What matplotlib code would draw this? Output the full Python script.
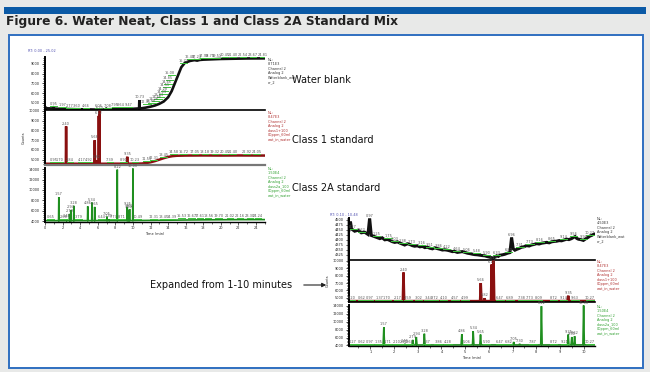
import numpy as np
import matplotlib
matplotlib.use("Agg")
import matplotlib.pyplot as plt
from matplotlib.patches import Rectangle, FancyArrowPatch
from matplotlib.ticker import FixedLocator, AutoMinorLocator

# ---------------- data ----------------
# Water blank trace (time in min, counts)
wb_t = [0.00, 0.10, 0.16, 0.21, 0.34, 0.48, 0.62, 0.76, 0.90, 0.97, 1.04, 1.18, 1.29, 1.40, 1.50,
        1.61, 1.72, 1.82, 1.92, 2.03, 2.14, 2.24, 2.35, 2.45, 2.56, 2.66, 2.77, 2.87, 2.98, 3.09,
        3.20, 3.30, 3.41, 3.51, 3.62, 3.72, 3.83, 3.93, 4.04, 4.14, 4.25, 4.35, 4.46, 4.56, 4.67,
        4.78, 4.88, 4.99, 5.10, 5.20, 5.31, 5.41, 5.52, 5.62, 5.73, 5.83, 5.94, 6.04, 6.11, 6.18,
        6.25, 6.33, 6.40, 6.47, 6.58, 6.68, 6.79, 6.89, 6.96, 7.03, 7.10, 7.17, 7.28, 7.38, 7.48,
        7.59, 7.70, 7.80, 7.91, 8.02, 8.12, 8.23, 8.34, 8.44, 8.55, 8.65, 8.76, 8.86, 8.97, 9.07,
        9.18, 9.28, 9.38, 9.49, 9.56, 9.64, 9.71, 9.78, 9.88, 9.99, 10.10, 10.20, 10.27, 10.34,
        10.41, 10.48, 11.0, 11.5, 12.0, 12.5, 13.0, 13.5, 14.0, 14.4, 14.8, 15.2, 15.5, 15.9,
        16.5, 17.0, 17.3, 17.6, 18.0, 19.0, 20.0, 21.0, 22.0, 23.0, 24.0, 25.0]
wb_v = [4460, 4452, 4492, 4455, 4444, 4449, 4436, 4439, 4428, 4508, 4423, 4417, 4412, 4407, 4411,
        4401, 4403, 4398, 4392, 4388, 4391, 4385, 4380, 4375, 4381, 4378, 4372, 4369, 4371, 4366,
        4368, 4362, 4364, 4359, 4356, 4361, 4357, 4354, 4350, 4351, 4349, 4346, 4342, 4343, 4338,
        4340, 4342, 4338, 4334, 4332, 4329, 4327, 4326, 4324, 4322, 4321, 4317, 4314, 4312, 4309,
        4314, 4321, 4318, 4324, 4326, 4329, 4334, 4337, 4412, 4356, 4349, 4353, 4358, 4364, 4366,
        4372, 4370, 4375, 4378, 4382, 4380, 4384, 4386, 4388, 4386, 4391, 4393, 4394, 4397, 4396,
        4400, 4404, 4402, 4407, 4412, 4417, 4408, 4404, 4402, 4398, 4407, 4414, 4420, 4423,
        4428, 4430, 4460, 4530, 4620, 4740, 4910, 5150, 5580, 6200, 7100, 8000, 8650, 9100,
        9300, 9380, 9330, 9400, 9430, 9470, 9500, 9520, 9540, 9550, 9550, 9560]
wb_peak_t = [10.73]
wb_peak_v = [5300]

# Class 1 standard trace
c1_base_t = [0, 1, 2, 3, 4, 5, 6, 7, 8, 9, 10, 11, 11.5, 12, 12.5, 13, 13.5, 14, 14.5, 15, 16, 18, 20, 22, 25]
c1_base_v = [4580, 4575, 4570, 4580, 4575, 4570, 4575, 4580, 4585, 4580, 4590, 4600, 4650, 4730,
             4850, 5000, 5150, 5280, 5360, 5400, 5420, 5430, 5420, 5430, 5420]
c1_peak_t = [2.40, 5.66, 5.82, 6.12, 6.20, 9.35]
c1_peak_v = [8420, 7000, 4950, 9500, 10020, 5300]

# Class 2A standard trace
c2_base_t = [0, 2, 4, 6, 8, 10, 12, 14, 16, 18, 20, 22, 25]
c2_base_v = [4130, 4120, 4130, 4140, 4130, 4150, 4180, 4210, 4250, 4280, 4300, 4320, 4330]
c2_peak_t = [1.57, 2.46, 2.79, 2.94, 3.28, 4.86, 5.34, 5.65, 7.05, 7.30, 8.22, 9.35, 9.50, 9.62, 10.00]
c2_peak_v = [8620, 4390, 5420, 6140, 6970, 6870, 7590, 6760, 4900, 4390, 13890, 6760, 6140, 6350, 14100]

# integration marks (full run)
wb_marks = [0.95, 1.97, 2.77, 3.60, 4.66, 6.06, 7.08, 7.95, 8.64, 9.47,
            12.31, 12.88, 13.26, 13.56, 13.83, 14.09, 14.28, 14.51, 14.66, 14.85, 15.08,
            15.72, 16.48, 17.23, 17.99, 18.75, 19.51, 20.45, 21.40, 22.54, 23.67, 24.81]
c1_marks = [0.95, 1.70, 2.84, 4.17, 4.92, 7.39, 8.90, 10.23, 11.55, 12.31, 13.45, 14.58,
            15.72, 17.05, 18.18, 19.32, 20.45, 21.40, 22.92, 24.05]
c2_marks = [0.65, 2.08, 3.79, 6.44, 7.77, 8.71, 10.49, 12.31, 13.45, 14.39, 15.53, 16.67,
            17.61, 18.56, 19.70, 21.02, 22.16, 23.30, 24.24]

# integration marks (1-10 min detail)
wbx_marks = [0.27, 0.62, 1.25, 1.75, 2.03, 2.38, 2.73, 3.16, 3.51, 3.86, 4.22, 4.64, 5.06,
             5.48, 5.90, 6.33, 6.82, 7.31, 7.73, 8.16, 8.65, 9.14, 9.56, 9.99, 10.27]
c1x_marks = [0.20, 0.62, 0.97, 1.37, 1.70, 2.17, 2.59, 3.02, 3.44, 3.72, 4.10, 4.57, 4.99,
             6.47, 6.89, 7.38, 7.73, 8.09, 8.72, 9.14, 9.63, 10.27]
c2x_marks = [0.27, 0.62, 0.97, 1.35, 1.71, 2.10, 2.41, 2.66, 3.37, 3.86, 4.28, 5.06, 5.90,
             6.47, 6.82, 7.87, 8.72, 9.21, 10.27]

# axis ranges and ticks
full_xlim = (0.0, 25.02)
full_xticks = [0, 2, 4, 6, 8, 10, 12, 14, 16, 18, 20, 22, 24]
zoom_xlim = (0.10, 10.48)
zoom_xticks = [1, 2, 3, 4, 5, 6, 7, 8, 9, 10]
wb_ylim, wb_yticks = (4280, 9700), [5000, 6000, 7000, 8000, 9000]
wbx_ylim, wbx_yticks = (4300, 4510), [4325, 4350, 4375, 4400, 4425, 4450, 4475, 4500]
c1_ylim, c1_yticks = (4450, 10100), [5000, 6000, 7000, 8000, 9000, 10000]
c2_ylim, c2_yticks = (3870, 14200), [4000, 6000, 8000, 10000, 12000, 14000]

wb_note = "NL:\n8.71E3\nChannel 2\nAnalog 2\nWaterblank_wat\ner_2"
wbx_note = "NL:\n4.50E3\nChannel 2\nAnalog 2\nWaterblank_wat\ner_2"
c1_note = "NL:\n8.47E3\nChannel 2\nAnalog 2\nclass1+100\n00ppm_60ml\nwat_in_water"
c2_note = "NL:\n1.50E4\nChannel 2\nAnalog 2\nclass2a_100\n00ppm_60ml\nwat_in_water"

# ---------------- figure ----------------
W, H = 650, 372
fig = plt.figure(figsize=(6.5, 3.72), dpi=100)
fig.patch.set_facecolor('#e8e9e8')


def fx(px):
    return px / W


def fy(py):
    return 1 - py / H


fig.add_artist(Rectangle((fx(4), fy(13.5)), fx(642), 6.5 / H, transform=fig.transFigure,
                         facecolor='#0b5aa6', edgecolor='none', zorder=-10))
fig.text(fx(6), fy(22), "Figure 6. Water Neat, Class 1 and Class 2A Standard Mix",
         ha='left', va='center', fontsize=8.8, fontweight='bold',
         family='DejaVu Sans', color='#222222')
fig.add_artist(Rectangle((fx(8.5), fy(368)), fx(634.5), (368 - 34.5) / H, transform=fig.transFigure,
                         facecolor='white', edgecolor='#2f6fc0', lw=1.4, zorder=-10))

GREEN_MARK = '#3cc43c'
TINY = 2.5
LABEL_GRAY = '#555555'


def build_trace(base_t, base_v, peak_t, peak_v, w):
    base_t = np.asarray(base_t, float)
    base_v = np.asarray(base_v, float)
    keep = np.ones(len(base_t), bool)
    for t in peak_t:
        keep &= np.abs(base_t - t) > w
    pts = list(zip(base_t[keep], base_v[keep]))
    for t, v in zip(peak_t, peak_v):
        pts.append((t - w, np.interp(t - w, base_t, base_v)))
        pts.append((t, v))
        pts.append((t + w, np.interp(t + w, base_t, base_v)))
    pts.sort(key=lambda p: p[0])
    arr = np.array(pts)
    return arr[:, 0], arr[:, 1]


def add_axes(x0, x1, y0, y1):
    ax = fig.add_axes([fx(x0), fy(y1), fx(x1 - x0), (y1 - y0) / H])
    ax.patch.set_alpha(0)
    return ax


def style_axes(ax, xlim, ylim, yticks, xticks=None, bottom_color='black', bottom_lw=1.0):
    ax.set_xlim(*xlim)
    ax.set_ylim(*ylim)
    for s in ('top', 'right'):
        ax.spines[s].set_visible(False)
    ax.spines['left'].set_linewidth(1.4)
    ax.spines['bottom'].set_color(bottom_color)
    ax.spines['bottom'].set_linewidth(bottom_lw)
    ax.yaxis.set_major_locator(FixedLocator(yticks))
    ax.set_yticklabels([str(v) for v in yticks])
    ax.yaxis.set_minor_locator(AutoMinorLocator(5))
    ax.tick_params(axis='y', which='major', length=2.5, width=0.6, labelsize=TINY,
                   colors='#222', pad=1)
    ax.tick_params(axis='y', which='minor', length=1.4, width=0.5)
    if xticks is None:
        ax.tick_params(axis='x', which='both', bottom=False, labelbottom=False)
    else:
        ax.xaxis.set_major_locator(FixedLocator(xticks))
        ax.set_xticklabels([str(v) for v in xticks])
        ax.xaxis.set_minor_locator(AutoMinorLocator(2))
        ax.tick_params(axis='x', which='major', length=2, width=0.5, labelsize=TINY,
                       colors='#222', pad=1)
        ax.tick_params(axis='x', which='minor', length=1.2, width=0.4)
        ax.set_xlabel("Time (min)", fontsize=TINY, labelpad=1, color='#222')


def on_left(mt, left_marks):
    return len(left_marks) == 2 and left_marks[0] <= mt <= left_marks[1]


def draw_trace(ax, t, v, color, lw, peak_t, peak_v, marks, xlim, left_marks=()):
    ax.plot(t, v, color=color, lw=lw, solid_joinstyle='miter')
    ylo, yhi = ax.get_ylim()
    dy = 0.03 * (yhi - ylo)
    span = xlim[1] - xlim[0]
    for pt, pv in zip(peak_t, peak_v):
        if xlim[0] <= pt <= xlim[1]:
            ax.annotate(f"{pt:.2f}", (pt, pv), xytext=(0, 0.6), textcoords='offset points',
                        ha='center', va='bottom', fontsize=TINY, color=LABEL_GRAY,
                        annotation_clip=False)
    for mt in marks:
        y = np.interp(mt, t, v) + dy
        if on_left(mt, left_marks):
            ax.plot([mt - 0.045 * span, mt - 0.01 * span], [y, y], color=GREEN_MARK, lw=0.7)
            ax.text(mt - 0.012 * span, y, f"{mt:.2f}", ha='right', va='bottom',
                    fontsize=TINY, color=LABEL_GRAY)
        else:
            ax.plot([mt - 0.015 * span, mt + 0.015 * span], [y, y], color=GREEN_MARK, lw=0.7)
            ax.text(mt, y, f"{mt:.2f}", ha='center', va='bottom', fontsize=TINY,
                    color=LABEL_GRAY)


def note(px, py, text, color):
    fig.text(fx(px), fy(py), text, ha='left', va='top', fontsize=TINY, color=color,
             linespacing=1.15)


wb_tt, wb_vv = build_trace(wb_t, wb_v, wb_peak_t, wb_peak_v, 0.03)
c1_tt, c1_vv = build_trace(c1_base_t, c1_base_v, c1_peak_t, c1_peak_v, 0.03)
c2_tt, c2_vv = build_trace(c2_base_t, c2_base_v, c2_peak_t, c2_peak_v, 0.03)

BLACK, RED, GREEN = '#111111', '#8a1010', '#1f8f1f'

# ---- full run, 0-25 min ----
ax1 = add_axes(45, 265, 57, 110)
style_axes(ax1, full_xlim, wb_ylim, wb_yticks, bottom_lw=1.2)
draw_trace(ax1, wb_tt, wb_vv, BLACK, 1.9, wb_peak_t, wb_peak_v, wb_marks, full_xlim,
           left_marks=(12.0, 15.2))

ax2 = add_axes(45, 265, 110, 165)
style_axes(ax2, full_xlim, c1_ylim, c1_yticks, bottom_color='#777777', bottom_lw=1.6)
draw_trace(ax2, c1_tt, c1_vv, RED, 1.8, c1_peak_t, c1_peak_v, c1_marks, full_xlim)
ax2.set_ylabel("Counts", fontsize=TINY, labelpad=2, color='#222')

ax3 = add_axes(45, 265, 168, 222)
style_axes(ax3, full_xlim, c2_ylim, c2_yticks, xticks=full_xticks)
draw_trace(ax3, c2_tt, c2_vv, GREEN, 1.2, c2_peak_t, c2_peak_v, c2_marks, full_xlim)

fig.text(fx(28), fy(51), f"RT: {full_xlim[0]:.2f} - {full_xlim[1]:.2f}", fontsize=TINY,
         color='#5050b0', ha='left', va='center')
note(268, 58, wb_note, '#333333')
note(268, 111, c1_note, '#b03030')
note(268, 167, c2_note, '#30a030')

fig.text(fx(292), fy(80), "Water blank", fontsize=7, ha='left', va='center', color='#111')
fig.text(fx(292), fy(140), "Class 1 standard", fontsize=7, ha='left', va='center', color='#111')
fig.text(fx(292), fy(188), "Class 2A standard", fontsize=7, ha='left', va='center', color='#111')

# ---- detail, 1-10 min ----
bx1 = add_axes(349, 595, 218, 260)
style_axes(bx1, zoom_xlim, wbx_ylim, wbx_yticks, bottom_lw=1.2)
draw_trace(bx1, wb_tt, wb_vv, BLACK, 2.2, [0.97, 6.96], [4508, 4412], wbx_marks, zoom_xlim)

bx2 = add_axes(349, 595, 260, 302)
style_axes(bx2, zoom_xlim, c1_ylim, c1_yticks, bottom_lw=1.2)
draw_trace(bx2, c1_tt, c1_vv, RED, 1.8, c1_peak_t, c1_peak_v, c1x_marks, zoom_xlim)
bx2.set_ylabel("Counts", fontsize=TINY, labelpad=2, color='#222')

bx3 = add_axes(349, 595, 305, 346)
style_axes(bx3, zoom_xlim, c2_ylim, c2_yticks, xticks=zoom_xticks)
draw_trace(bx3, c2_tt, c2_vv, GREEN, 1.2, c2_peak_t, c2_peak_v, c2x_marks, zoom_xlim)

fig.text(fx(330), fy(215), f"RT: {zoom_xlim[0]:.2f} - {zoom_xlim[1]:.2f}", fontsize=TINY,
         color='#5050b0', ha='left', va='center')
note(597, 217, wbx_note, '#333333')
note(597, 260, c1_note, '#b03030')
note(597, 305, c2_note, '#30a030')

fig.text(fx(292), fy(285), "Expanded from 1-10 minutes", fontsize=7, ha='right', va='center',
         color='#111')
fig.add_artist(FancyArrowPatch((fx(301), fy(285)), (fx(329), fy(285)), transform=fig.transFigure,
                               arrowstyle='-|>', mutation_scale=6, lw=0.8, color='#222'))

fig.savefig("out.png", dpi=100, facecolor=fig.get_facecolor())
